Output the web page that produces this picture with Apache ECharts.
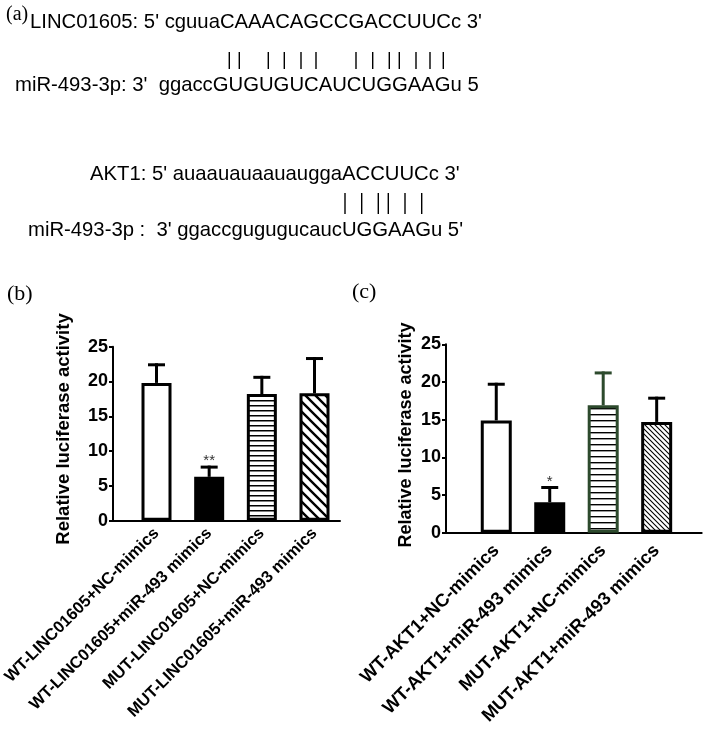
<!DOCTYPE html>
<html><head><meta charset="utf-8">
<script src="https://cdn.jsdelivr.net/npm/echarts@6/dist/echarts.min.js"></script>
<style>html,body{margin:0;padding:0;background:#fff}#c{width:705px;height:729px}</style>
</head><body><div id="c"></div>
<script>
// ---------- data ----------
const catsB = ['WT-LINC01605+NC-mimics','WT-LINC01605+miR-493 mimics','MUT-LINC01605+NC-mimics','MUT-LINC01605+miR-493 mimics'];
const meanB = [19.8, 6.3, 18.2, 18.3];
const errB  = [2.6, 1.4, 2.4, 5.0];
const sigB  = ['', '**', '', ''];
const catsC = ['WT-AKT1+NC-mimics','WT-AKT1+miR-493 mimics','MUT-AKT1+NC-mimics','MUT-AKT1+miR-493 mimics'];
const meanC = [14.9, 4.05, 16.9, 14.7];
const errC  = [4.8, 1.95, 4.3, 3.15];
const sigC  = ['', '*', '', ''];
const yTicks = [0, 5, 10, 15, 20, 25];
const seqLines = [
  'LINC01605: 5\' cguuaCAAACAGCCGACCUUCc 3\'',
  'miR-493-3p: 3\'  ggaccGUGUGUCAUCUGGAAGu 5',
  'AKT1: 5\' auaauauaauauggaACCUUCc 3\'',
  'miR-493-3p :  3\' ggaccgugugucaucUGGAAGu 5\''
];
const yTitle = 'Relative luciferase activity';

// ---------- layout / style ----------
const SANS = '"Liberation Sans", Arial, Helvetica, sans-serif';
const SERIF = '"Liberation Serif", "Times New Roman", serif';
const seqPos = [[30, 22], [15, 85], [90, 174], [28, 230]];
const pipes1 = [229.3, 239.3, 268.3, 284.3, 301, 316, 356, 372.7, 389.3, 399.3, 416, 430, 443.3];
const pipes2 = [345, 361.7, 378.3, 388.3, 405, 421.7];

function stripeH(period, lw){
  const c = document.createElement('canvas'); c.width = 8; c.height = period;
  const g = c.getContext('2d'); g.fillStyle = '#fff'; g.fillRect(0,0,8,period);
  g.fillStyle = '#000'; g.fillRect(0,0,8,lw); return c;
}
function stripeD(s, lw){
  const c = document.createElement('canvas'); c.width = s; c.height = s;
  const g = c.getContext('2d'); g.fillStyle = '#fff'; g.fillRect(0,0,s,s);
  g.strokeStyle = '#000'; g.lineWidth = lw; g.beginPath();
  for (const k of [-s, 0, s]) { g.moveTo(k - 1, -1); g.lineTo(k + s + 1, s + 1); }
  g.stroke(); return c;
}
const GREEN = '#2d4a2d';
const stylesB = [
  {color:'#fff', borderColor:'#000'},
  {color:'#000', borderColor:'#000'},
  {color:{image:stripeH(5,1.5), repeat:'repeat'}, borderColor:'#000'},
  {color:{image:stripeD(10,2.4), repeat:'repeat'}, borderColor:'#000'}
];
const stylesC = [
  {color:'#fff', borderColor:'#000'},
  {color:'#000', borderColor:'#000'},
  {color:{image:stripeH(6,1.4), repeat:'repeat'}, borderColor:GREEN},
  {color:{image:stripeD(5,1.1), repeat:'repeat'}, borderColor:'#000'}
];

function mkX(gi, cats, min, max, fs, mg){
  return {type:'value', gridIndex:gi, min:min, max:max,
    axisLine:{show:true, onZero:false, lineStyle:{color:'#000', width:2}},
    axisTick:{show:false}, splitLine:{show:false},
    axisLabel:{customValues:[1,2,3,4], formatter:v => cats[Math.round(v)-1] || '',
      rotate:45, fontSize:fs, fontWeight:'bold', color:'#000', fontFamily:SANS, margin:mg}};
}
function mkY(gi){
  return {type:'value', gridIndex:gi, min:0, max:25, interval:5,
    axisLine:{show:true, lineStyle:{color:'#000', width:2}},
    axisTick:{show:true, length:4, lineStyle:{color:'#000', width:2}},
    splitLine:{show:false},
    axisLabel:{customValues:yTicks, fontSize:18, fontWeight:'bold', color:'#000', fontFamily:SANS, margin:5}};
}
function barSeries(gi, means, styles, bw){
  return {type:'bar', xAxisIndex:gi, yAxisIndex:gi, barWidth:bw, z:3, silent:true,
    data: means.map((v,i) => ({value:[i+1, v], itemStyle:Object.assign({borderWidth:3}, styles[i])}))};
}
function errSeries(gi, means, errs, sigs, colors){
  return {type:'custom', xAxisIndex:gi, yAxisIndex:gi, z:2, silent:true,
    data: means.map((v,i) => [i+1, v, errs[i], i]),
    renderItem(params, api){
      const x = api.value(0), m = api.value(1), e = api.value(2), i = api.value(3);
      const p0 = api.coord([x, m]), p1 = api.coord([x, m + e]);
      const col = colors[i];
      const ch = [
        {type:'line', shape:{x1:p0[0], y1:p0[1], x2:p1[0], y2:p1[1] - 1.5}, style:{stroke:col, lineWidth:3}},
        {type:'line', shape:{x1:p1[0]-8.5, y1:p1[1], x2:p1[0]+8.5, y2:p1[1]}, style:{stroke:col, lineWidth:3}}
      ];
      if (sigs[i]) ch.push({type:'text', style:{text:sigs[i], x:p1[0], y:p1[1]-6, align:'center', verticalAlign:'middle',
        font:'15px ' + SANS, fill:'#333'}});
      return {type:'group', children:ch};
    }};
}

const graphic = [];
graphic.push({type:'text', left:6, top:5, style:{text:'(a)', font:'20px ' + SERIF, fill:'#000'}});
graphic.push({type:'text', left:7, top:283, style:{text:'(b)', font:'22px ' + SERIF, fill:'#000'}});
graphic.push({type:'text', left:352, top:281, style:{text:'(c)', font:'22px ' + SERIF, fill:'#000'}});
seqLines.forEach((t,i) => graphic.push({type:'text', x:seqPos[i][0], y:seqPos[i][1],
  style:{text:t, font:'20.3px ' + SANS, fill:'#000', verticalAlign:'middle'}}));
pipes1.forEach(x => graphic.push({type:'line', shape:{x1:x, y1:52, x2:x, y2:69}, style:{stroke:'#000', lineWidth:1.4}}));
pipes2.forEach(x => graphic.push({type:'line', shape:{x1:x, y1:193, x2:x, y2:214}, style:{stroke:'#000', lineWidth:1.4}}));
graphic.push({type:'text', x:64, y:429, rotation:Math.PI/2,
  style:{text:yTitle, font:'bold 18.5px ' + SANS, fill:'#000', align:'center', verticalAlign:'middle'}});
graphic.push({type:'text', x:406, y:435, rotation:Math.PI/2,
  style:{text:yTitle, font:'bold 18px ' + SANS, fill:'#000', align:'center', verticalAlign:'middle'}});

const chart = echarts.init(document.getElementById('c'), null, {renderer:'canvas'});
chart.setOption({
  animation:false, backgroundColor:'#fff',
  grid:[{left:113, right:365, top:346.7, bottom:208.3, containLabel:false, outerBoundsMode:'none'},
        {left:446, right:3.3, top:344.3, bottom:196.3, containLabel:false, outerBoundsMode:'none'}],
  xAxis:[mkX(0, catsB, 0.174, 4.484, 16.5, 10), mkX(1, catsC, 0.06, 4.842, 18.3, 15)],
  yAxis:[mkY(0), mkY(1)],
  series:[
    errSeries(0, meanB, errB, sigB, ['#000','#000','#000','#000']),
    barSeries(0, meanB, stylesB, 30),
    errSeries(1, meanC, errC, sigC, ['#000','#000',GREEN,'#000']),
    barSeries(1, meanC, stylesC, 31)
  ],
  graphic:graphic
});
</script></body></html>
